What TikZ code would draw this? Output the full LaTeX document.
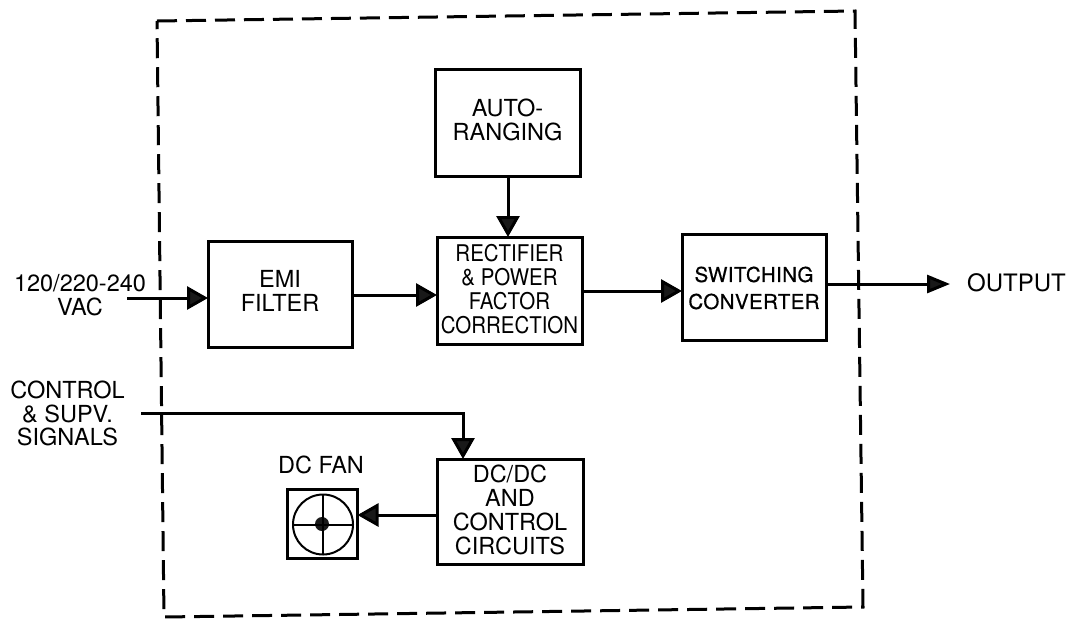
\documentclass[tikz,border=0pt]{standalone}
\usepackage{fontspec}
\setmainfont{TeX Gyre Heros}
\newfontfamily\condfont[FakeStretch=0.89]{TeX Gyre Heros}
\newfontfamily\swfont[LetterSpace=2,FakeBold=0.5]{TeX Gyre Heros}
\usetikzlibrary{arrows.meta}
\tikzset{
  blockbox/.style={draw=black,line width=3pt,fill=white,inner sep=0pt,outer sep=0pt,anchor=north west},
  boxtext/.style={align=center,inner sep=0pt,font=\fontsize{23.5}{24}\selectfont},
  condtext/.style={align=center,inner sep=0pt,font=\condfont\fontsize{23}{24}\selectfont},
  swtext/.style={align=center,inner sep=0pt,font=\swfont\fontsize{20.5}{27}\selectfont},
  lbl/.style={align=center,inner sep=0pt,font=\fontsize{23.5}{23.5}\selectfont},
  flow/.style={line width=3pt,-{Triangle[length=21pt,width=23pt,fill=black!90]}},
  boundary/.style={line width=3pt,dash pattern=on 20pt off 9pt}
}
\begin{document}
\begin{tikzpicture}[x=1pt,y=-1pt]
\useasboundingbox[fill=white] (0,0) rectangle (1076,622);
\coordinate (tl) at (157,21);
\coordinate (tr) at (855,11);
\coordinate (br) at (863,607);
\coordinate (bl) at (164,617);
\draw[boundary] (tl) -- (tr) -- (br) -- (bl) -- cycle;
\node[blockbox,minimum width=144pt,minimum height=106pt,label={[boxtext,name=emitext,yshift=3pt]center:{EMI\\FILTER}}] (emi) at (208,241) {};
\node[blockbox,minimum width=145pt,minimum height=107pt,label={[boxtext,name=autotext,yshift=3pt]center:{AUTO-\\RANGING}}] (auto) at (435,69) {};
\node[blockbox,minimum width=145pt,minimum height=107pt,label={[condtext,name=recttext,yshift=1pt]center:{RECTIFIER\\\&\ POWER\\FACTOR\\CORRECTION}}] (rect) at (437,237) {};
\node[blockbox,minimum width=144pt,minimum height=106pt,label={[swtext,name=swtext1,yshift=-1pt]center:{SWITCHING\\CONVERTER}}] (sw) at (682,234) {};
\node[blockbox,minimum width=146pt,minimum height=105pt,label={[boxtext,name=dctext,yshift=2pt]center:{DC/DC\\AND\\CONTROL\\CIRCUITS}}] (dc) at (437,459) {};
\node[draw=black,line width=3pt,outer sep=0pt,minimum width=70pt,minimum height=69pt,inner sep=0pt] (fan) at (322.5,524) {};
\node[draw=black,line width=2pt,circle,outer sep=0pt,minimum size=60pt,inner sep=0pt] (wheel) at (323,524.5) {};
\node[fill=black!90,circle,minimum size=14pt,inner sep=0pt] (hub) at (322,524) {};
\draw[line width=2pt] (wheel.north) -- (wheel.south) (wheel.west) -- (wheel.east);
\node[lbl] (fanl) at (321,465) {DC FAN};
\node[lbl] (vac) at (80,295) {120/220-240\\VAC};
\node[lbl] (ctl) at (67.5,413.5) {CONTROL\\\&\ SUPV.\\SIGNALS};
\node[lbl,anchor=west,font=\fontsize{24}{24}\selectfont] (out) at (967,283) {OUTPUT};
\coordinate (vacin) at (127,298);
\coordinate (ctlin) at (141,413);
\coordinate (outend) at (950,284);
\coordinate (ctlturn) at (463,413);
\draw[flow] (vacin) -- (vacin -| emi.west);
\draw[flow] (emi.east |- 0,295) -- (rect.west |- 0,295);
\draw[flow] (508,176) -- (508,237);
\draw[flow] (rect.east |- 0,291) -- (sw.west |- 0,291);
\draw[flow,-{Triangle[length=23pt,width=18pt,fill=black!90]}] (sw.east |- 0,284) -- (outend);
\draw[flow] (ctlin) -- (ctlturn) -- (ctlturn |- dc.north);
\draw[flow] (dc.west |- 0,515) -- (fan.east |- 0,515);
\end{tikzpicture}
\end{document}
